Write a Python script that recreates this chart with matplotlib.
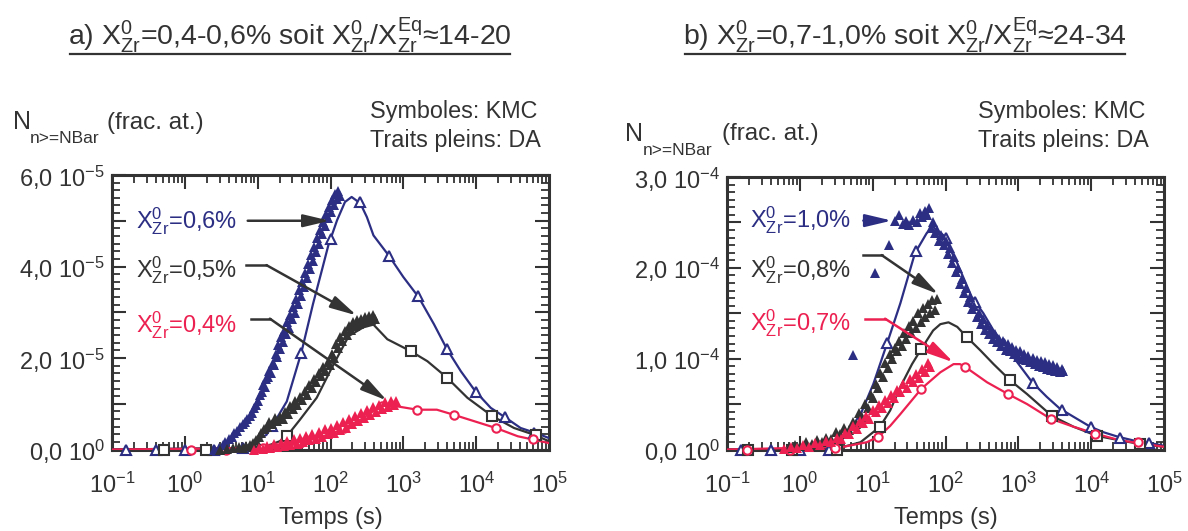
import numpy as np
import matplotlib
matplotlib.use("Agg")
import matplotlib.pyplot as plt
from matplotlib import font_manager as fm
from matplotlib.ticker import FixedLocator, FixedFormatter, LogLocator, NullFormatter, MultipleLocator
from matplotlib.lines import Line2D

names = {f.name for f in fm.fontManager.ttflist}
NARROW = 'Liberation Sans Narrow' in names
FONT = 'Liberation Sans Narrow' if NARROW else 'Liberation Sans'
K = 1.2 if NARROW else 1.0

plt.rcParams['font.family'] = [FONT, 'DejaVu Sans']
plt.rcParams['mathtext.fontset'] = 'custom'
plt.rcParams['mathtext.rm'] = FONT
plt.rcParams['mathtext.it'] = FONT + ':italic'
plt.rcParams['mathtext.bf'] = FONT + ':bold'
plt.rcParams['mathtext.sf'] = FONT

BLUE = '#2b2e83'
DARK = '#333333'
RED = '#ec2151'

# ---------------- data: panel a (N in units of 1e-5) ----------------
a_blue_da_t = [0.1, 6.3, 13.2, 16.2, 25.1, 39.8, 57.5, 75.9, 93.3, 123, 158, 195, 257, 316, 389, 631,
               1000, 1622, 2630, 3981, 6166, 9772, 15849, 25704, 40738, 66069, 100000]
a_blue_da_v = [0, 0.03, 0.32, 0.54, 1.05, 2.12, 3.18, 3.91, 4.46, 5.01, 5.41, 5.52, 5.38, 5.08, 4.68, 4.24,
               3.77, 3.33, 2.74, 2.19, 1.71, 1.27, 0.91, 0.69, 0.47, 0.36, 0.25]
a_blue_mk_t = [0.158, 0.398, 1.0, 2.51, 6.31, 15.8, 39.8, 100, 251, 631, 1585, 3981, 10000, 25119, 63096]
a_blue_mk_v = [0, 0, 0, 0, 0.03, 0.52, 2.12, 4.6, 5.4, 4.24, 3.35, 2.19, 1.25, 0.7, 0.37]

a_black_da_t = [0.1, 6.3, 13.2, 20, 25.1, 30.9, 38, 64.6, 110, 178, 282, 389, 603, 1259, 2138, 3981,
                7586, 16596, 33113, 63096, 100000]
a_black_da_v = [0, 0.03, 0.07, 0.18, 0.29, 0.47, 0.65, 1.13, 1.86, 2.48, 2.67, 2.73, 2.41, 2.15, 1.93, 1.57,
                1.13, 0.73, 0.47, 0.32, 0.18]
a_black_mk_t = [0.525, 1.95, 25.1, 1259, 3981, 16596, 66069]
a_black_mk_v = [0, 0, 0.29, 2.15, 1.57, 0.73, 0.31]

a_red_da_t = [0.1, 11.7, 25.1, 38, 64.6, 110, 151, 257, 389, 513, 776, 1549, 2884, 4898, 9333, 18621,
              37154, 63096, 100000]
a_red_da_v = [0, 0.03, 0.07, 0.14, 0.25, 0.36, 0.47, 0.65, 0.84, 0.95, 0.95, 0.87, 0.87, 0.76, 0.62, 0.47,
              0.29, 0.21, 0.14]
a_red_mk_t = [1.23, 3.7, 11.7, 38, 151, 513, 1549, 4898, 18621, 60256]
a_red_mk_v = [0, 0, 0.03, 0.14, 0.47, 0.95, 0.87, 0.76, 0.47, 0.22]

a_blue_kmc_t = [2.5, 2.9, 3.3, 3.6, 4.0, 4.4, 4.8, 5.2, 5.7, 6.2, 6.7, 7.2, 7.8, 8.4, 9.0, 9.6, 10.2, 10.8,
                11.4, 12.0, 12.6, 13.2, 13.8, 14.5, 15.2, 16.0, 16.8, 17.6, 18.4, 19.3, 20.2, 21.2, 22.2,
                23.3, 24.4, 25.6, 26.8, 28.1, 29.5, 31.0, 32.5, 34.0, 35.7, 37.4, 39.2, 41.1, 43.1, 45.2,
                47.4, 49.7, 52.1, 54.6, 57.3, 60.0, 63.0, 66.0, 69.2, 72.6, 76.1, 79.8, 83.7, 87.8, 92.0,
                96.5, 101, 106, 111, 117, 122, 128, 134]
a_blue_kmc_v = [0.00, 0.04, 0.10, 0.16, 0.22, 0.28, 0.36, 0.40, 0.50, 0.55, 0.60, 0.66, 0.74, 0.80, 0.90,
                0.98, 1.05, 1.20, 1.25, 1.40, 1.36, 1.55, 1.58, 1.72, 1.68, 1.90, 1.85, 2.08, 2.02, 2.28,
                2.20, 2.45, 2.36, 2.60, 2.52, 2.78, 2.66, 2.95, 2.85, 3.12, 2.98, 3.30, 3.18, 3.48, 3.36,
                3.66, 3.55, 3.85, 3.75, 4.05, 3.95, 4.25, 4.12, 4.42, 4.32, 4.62, 4.50, 4.80, 4.70, 4.98,
                4.88, 5.15, 5.05, 5.30, 5.20, 5.45, 5.35, 5.58, 5.48, 5.65, 5.55]

a_black_kmc_t = [3.0, 3.8, 4.6, 5.5, 6.3, 7.0, 7.8, 8.6, 9.4, 10.3, 11.2, 12.2, 13.3, 14.5, 15.8, 17.2,
                 18.7, 20.3, 22.0, 23.8, 25.8, 27.9, 30.2, 32.6, 35.2, 38.0, 41.0, 44.2, 47.6, 51.3, 55.2,
                 59.4, 63.9, 68.7, 73.8, 79.3, 85.1, 91.4, 98.0, 105, 112, 120, 128, 137, 146, 156, 166,
                 177, 189, 201, 214, 228, 243, 259, 276, 294, 313, 333, 355, 378, 402]
a_black_kmc_v = [0.00, 0.02, 0.03, 0.05, 0.04, 0.08, 0.10, 0.15, 0.20, 0.28, 0.35, 0.45, 0.50, 0.60, 0.55,
                 0.68, 0.62, 0.72, 0.66, 0.82, 0.78, 0.95, 0.88, 1.05, 0.98, 1.15, 1.08, 1.28, 1.20, 1.42,
                 1.35, 1.55, 1.48, 1.68, 1.60, 1.80, 1.72, 1.92, 1.85, 2.08, 2.00, 2.30, 2.22, 2.45, 2.38,
                 2.58, 2.50, 2.70, 2.62, 2.78, 2.70, 2.82, 2.74, 2.86, 2.78, 2.90, 2.80, 2.92, 2.84, 2.95,
                 2.86]

a_red_kmc_t = [9.0, 10.5, 12.0, 13.5, 15.0, 16.8, 18.7, 20.8, 23.0, 25.5, 28.2, 31.2, 34.5, 38.0, 42.0,
               46.4, 51.2, 56.5, 62.3, 68.7, 75.8, 83.5, 92.0, 101, 112, 123, 135, 149, 164, 180, 198,
               218, 240, 264, 290, 319, 351, 386, 424, 466, 512, 563, 619, 680, 747, 800]
a_red_kmc_v = [0.00, 0.03, 0.02, 0.08, 0.04, 0.12, 0.06, 0.14, 0.08, 0.18, 0.10, 0.22, 0.13, 0.25, 0.16,
               0.30, 0.20, 0.34, 0.24, 0.38, 0.28, 0.44, 0.33, 0.48, 0.37, 0.54, 0.42, 0.60, 0.48, 0.66,
               0.55, 0.73, 0.62, 0.80, 0.68, 0.86, 0.76, 0.92, 0.82, 0.98, 0.88, 1.03, 0.93, 1.07, 0.98,
               1.05]

# ---------------- data: panel b (N in units of 1e-4) ----------------
b_blue_da_t = [0.1, 2.9, 6.0, 10.2, 15.5, 24, 38, 55, 67.6, 93, 115, 145, 229, 331, 457, 851, 1549, 2455,
               3715, 6310, 9772, 14791, 23442, 42658, 75858, 100000]
b_blue_da_v = [0, 0.01, 0.28, 0.72, 1.15, 1.61, 2.16, 2.38, 2.45, 2.36, 2.21, 2.05, 1.68, 1.50, 1.31, 1.02,
               0.74, 0.58, 0.45, 0.34, 0.25, 0.19, 0.14, 0.09, 0.06, 0.04]
b_blue_mk_t = [0.158, 0.398, 1.0, 2.51, 6.31, 15.8, 39.8, 100, 251, 631, 1585, 3981, 10000, 25119, 63096]
b_blue_mk_v = [0, 0, 0, 0, 0.30, 1.17, 2.18, 2.33, 1.62, 1.16, 0.73, 0.43, 0.25, 0.13, 0.07]

b_black_da_t = [0.1, 2.9, 6.8, 12.6, 17.4, 24, 34.7, 46.8, 67.6, 85, 110, 145, 195, 302, 457, 776, 1318,
                2884, 5754, 12023, 25119, 46774, 100000]
b_black_da_v = [0, 0.0, 0.08, 0.25, 0.43, 0.69, 0.94, 1.11, 1.31, 1.38, 1.40, 1.35, 1.24, 1.09, 0.94, 0.76,
                0.61, 0.37, 0.25, 0.15, 0.10, 0.06, 0.03]
b_black_mk_t = [0.195, 0.79, 3.2, 12.6, 46.8, 195, 776, 2884, 12023, 46774]
b_black_mk_v = [0, 0, 0.0, 0.25, 1.11, 1.24, 0.76, 0.37, 0.15, 0.06]

b_red_da_t = [0.1, 4.0, 8.3, 12, 17.4, 24, 46.8, 85, 129, 158, 186, 372, 724, 1318, 2754, 5754, 12023,
              25119, 100000]
b_red_da_v = [0, 0.03, 0.08, 0.14, 0.26, 0.39, 0.67, 0.85, 0.94, 0.94, 0.91, 0.74, 0.61, 0.50, 0.34, 0.25,
              0.17, 0.10, 0.03]
b_red_mk_t = [0.19, 0.74, 3.0, 12, 46.8, 186, 724, 2818, 11220, 43652]
b_red_mk_v = [0, 0, 0.02, 0.14, 0.67, 0.91, 0.61, 0.34, 0.17, 0.08]

b_blue_kmc_t = [5.4, 10.7, 16.6, 20.5, 23.0, 26.0, 29.0, 32.0, 36.0, 40.0, 44.0, 48.0, 52.0, 56.0, 59.0,
                63.0, 68.0, 72.0, 77.0, 82.0, 88.0, 94.0, 100, 107, 114, 122, 130, 139, 148, 158, 168,
                180, 192, 205, 219, 234, 250, 267, 285, 304, 325, 347, 370, 395, 422, 450, 480, 513, 548,
                585, 625, 667, 712, 760, 812, 867, 926, 989, 1056, 1128, 1205, 1287, 1374, 1468, 1567,
                1674, 1787, 1909, 2038, 2177, 2325, 2482, 2651, 2831, 3023, 3229, 3448, 3682, 3932, 4170]
b_blue_kmc_v = [1.04, 1.94, 2.25, 2.52, 2.58, 2.48, 2.52, 2.47, 2.53, 2.50, 2.60, 2.56, 2.63, 2.58, 2.66,
                2.44, 2.50, 2.38, 2.42, 2.30, 2.36, 2.25, 2.30, 2.15, 2.22, 2.05, 2.12, 1.95, 2.00, 1.82,
                1.88, 1.72, 1.78, 1.62, 1.68, 1.55, 1.58, 1.46, 1.50, 1.38, 1.44, 1.32, 1.37, 1.27, 1.32,
                1.22, 1.27, 1.18, 1.22, 1.14, 1.19, 1.10, 1.16, 1.08, 1.13, 1.05, 1.10, 1.02, 1.08, 1.00,
                1.05, 0.98, 1.03, 0.96, 1.01, 0.94, 0.99, 0.92, 0.97, 0.91, 0.96, 0.89, 0.94, 0.88, 0.93,
                0.86, 0.91, 0.85, 0.89, 0.86]

b_black_kmc_t = [0.7, 0.85, 1.0, 1.2, 1.45, 1.7, 2.0, 2.3, 2.7, 3.1, 3.6, 4.1, 4.7, 5.3, 5.9, 6.5, 7.2,
                 7.9, 8.6, 9.4, 10.2, 11.0, 11.9, 12.8, 13.8, 14.9, 16.0, 17.3, 18.6, 20.0, 21.6, 23.2,
                 25.0, 27.0, 29.0, 31.3, 33.7, 36.3, 39.1, 42.2, 45.4, 49.0, 52.8, 56.9, 61.3, 66.0, 71.2,
                 76.0]
b_black_kmc_v = [0.02, 0.05, 0.04, 0.08, 0.06, 0.10, 0.08, 0.13, 0.12, 0.19, 0.17, 0.24, 0.22, 0.30, 0.28,
                 0.40, 0.36, 0.50, 0.46, 0.60, 0.57, 0.72, 0.68, 0.84, 0.80, 0.95, 0.90, 1.05, 1.00, 1.12,
                 1.08, 1.20, 1.14, 1.28, 1.22, 1.36, 1.28, 1.42, 1.34, 1.50, 1.40, 1.56, 1.46, 1.60, 1.50,
                 1.65, 1.54, 1.66]

b_red_kmc_t = [0.6, 0.75, 0.9, 1.1, 1.35, 1.6, 1.9, 2.3, 2.7, 3.2, 3.7, 4.2, 4.8, 5.4, 6.0, 6.7, 7.4, 8.2,
               9.0, 10.0, 11.0, 12.2, 13.4, 14.8, 16.3, 18.0, 19.8, 21.8, 24.0, 26.5, 29.2, 32.2, 35.5,
               39.1, 43.1, 47.5, 52.3, 57.7, 62.0]
b_red_kmc_v = [0.01, 0.03, 0.02, 0.05, 0.03, 0.07, 0.05, 0.09, 0.08, 0.13, 0.12, 0.18, 0.17, 0.26, 0.23,
               0.31, 0.29, 0.37, 0.34, 0.44, 0.41, 0.49, 0.46, 0.54, 0.51, 0.60, 0.57, 0.66, 0.63, 0.72,
               0.68, 0.78, 0.74, 0.83, 0.79, 0.89, 0.85, 0.95, 0.91]

x_ticks = [1e-1, 1e0, 1e1, 1e2, 1e3, 1e4, 1e5]
x_ticklabels = [r'$\mathregular{10^{-1}}$', r'$\mathregular{10^{0}}$', r'$\mathregular{10^{1}}$',
                r'$\mathregular{10^{2}}$', r'$\mathregular{10^{3}}$', r'$\mathregular{10^{4}}$',
                r'$\mathregular{10^{5}}$']
a_yticks = [0, 1e-5, 2e-5, 3e-5, 4e-5, 5e-5, 6e-5]
a_yticklabels = [r'$\mathregular{0{,}0\ 10^{0}}$', '', r'$\mathregular{2{,}0\ 10^{-5}}$', '',
                 r'$\mathregular{4{,}0\ 10^{-5}}$', '', r'$\mathregular{6{,}0\ 10^{-5}}$']
b_yticks = [0, 0.5e-4, 1e-4, 1.5e-4, 2e-4, 2.5e-4, 3e-4]
b_yticklabels = [r'$\mathregular{0{,}0\ 10^{0}}$', '', r'$\mathregular{1{,}0\ 10^{-4}}$', '',
                 r'$\mathregular{2{,}0\ 10^{-4}}$', '', r'$\mathregular{3{,}0\ 10^{-4}}$']

W, H = 1188, 531
fig = plt.figure(figsize=(W / 100, H / 100), dpi=100)
axA = fig.add_axes([112 / W, 1 - 449.5 / H, 437 / W, 274.5 / H])
axB = fig.add_axes([727 / W, 1 - 449.5 / H, 437 / W, 272.5 / H])

TS = 17 * K


def setup(ax, yticks, ylabels, ymax):
    ax.set_xscale('log')
    ax.set_xlim(0.1, 1e5)
    ax.set_ylim(0, ymax)
    ax.xaxis.set_major_locator(FixedLocator(x_ticks))
    ax.xaxis.set_major_formatter(FixedFormatter(x_ticklabels))
    ax.xaxis.set_minor_locator(LogLocator(base=10, subs=np.arange(2, 10), numticks=30))
    ax.xaxis.set_minor_formatter(NullFormatter())
    ax.yaxis.set_major_locator(FixedLocator(yticks))
    ax.yaxis.set_major_formatter(FixedFormatter(ylabels))
    ax.yaxis.set_minor_locator(MultipleLocator(yticks[1] / 6))
    ax.tick_params(which='both', direction='in', top=True, right=True, color=DARK,
                   labelcolor=DARK, labelsize=TS)
    ax.tick_params(which='major', length=10, width=1.5)
    ax.tick_params(which='minor', length=5.5, width=1.3)
    ax.tick_params(axis='x', which='major', pad=17)
    ax.tick_params(axis='y', which='major', pad=5)
    for s in ax.spines.values():
        s.set_linewidth(2.2)
        s.set_color(DARK)
    ax.set_xlabel('Temps (s)', fontsize=TS, color=DARK, labelpad=6)


def draw(ax, scale, da, mk, kmc, colors, markers):
    for (t, v), c in zip(da, colors):
        ax.plot(t, np.array(v) * scale, '-', color=c, lw=1.6, zorder=3)
    for (t, v), c, m in zip(mk, colors, markers):
        ax.plot(t, np.array(v) * scale, ls='none', marker=m, ms=7 if m != 'o' else 6,
                mfc='white', mec=c, mew=1.5, clip_on=False, zorder=4)
    for (t, v), c in zip(kmc, colors):
        ax.plot(t, np.array(v) * scale, ls='none', color=c, marker='^', ms=7.5, mew=0,
                clip_on=False, zorder=5)


setup(axA, a_yticks, a_yticklabels, 6e-5)
setup(axB, b_yticks, b_yticklabels, 3e-4)

draw(axA, 1e-5,
     [(a_blue_da_t, a_blue_da_v), (a_black_da_t, a_black_da_v), (a_red_da_t, a_red_da_v)],
     [(a_blue_mk_t, a_blue_mk_v), (a_black_mk_t, a_black_mk_v), (a_red_mk_t, a_red_mk_v)],
     [(a_blue_kmc_t, a_blue_kmc_v), (a_black_kmc_t, a_black_kmc_v), (a_red_kmc_t, a_red_kmc_v)],
     [BLUE, DARK, RED], ['^', 's', 'o'])
draw(axB, 1e-4,
     [(b_blue_da_t, b_blue_da_v), (b_black_da_t, b_black_da_v), (b_red_da_t, b_red_da_v)],
     [(b_blue_mk_t, b_blue_mk_v), (b_black_mk_t, b_black_mk_v), (b_red_mk_t, b_red_mk_v)],
     [(b_blue_kmc_t, b_blue_kmc_v), (b_black_kmc_t, b_black_kmc_v), (b_red_kmc_t, b_red_kmc_v)],
     [BLUE, DARK, RED], ['^', 's', 'o'])

AS = 17 * K
ARW = dict(arrowstyle='-|>,head_length=1.6,head_width=0.38', lw=1.8, shrinkA=0, shrinkB=0,
           mutation_scale=10)


def label_arrow(ax, xt, yt, text, c, start, knee, tip, ac):
    ax.text(xt, yt, r'$\mathregular{X^{0}_{Zr}}$' + text, color=c, fontsize=AS, va='baseline',
            ha='left', zorder=6)
    if knee is not None:
        ax.plot([start[0], knee[0]], [start[1], knee[1]], '-', color=ac, lw=1.8, zorder=6)
        src = knee
    else:
        src = start
    ax.annotate('', xy=tip, xytext=src, arrowprops=dict(ARW, color=ac), zorder=6)


label_arrow(axA, 0.214, 4.84e-5, '=0,6%', BLUE, (7.3, 5.0e-5), None, (98, 5.0e-5), DARK)
label_arrow(axA, 0.214, 3.77e-5, '=0,5%', DARK, (7.0, 4.03e-5), (13.2, 4.03e-5), (229, 2.93e-5), DARK)
label_arrow(axA, 0.214, 2.57e-5, '=0,4%', RED, (8.2, 2.86e-5), (14.7, 2.86e-5), (596, 1.07e-5), DARK)

label_arrow(axB, 0.207, 2.45e-4, '=1,0%', BLUE, (7.45, 2.52e-4), None, (18.3, 2.52e-4), BLUE)
label_arrow(axB, 0.207, 1.90e-4, '=0,8%', DARK, (7.45, 2.14e-4), (13.3, 2.14e-4), (80, 1.71e-4), DARK)
label_arrow(axB, 0.207, 1.31e-4, '=0,7%', RED, (7.9, 1.44e-4), (14.8, 1.44e-4), (128.5, 0.96e-4), RED)


def ftext(x, y, s, size, **kw):
    return fig.text(x / W, 1 - y / H, s, fontsize=size, color=DARK, va='baseline', **kw)


# y-axis labels above the axes
for (xn, yn, xs, ys, xf, yf) in [(13, 129, 30, 143, 107, 129), (625, 141, 643, 155, 722, 140)]:
    ftext(xn, yn, 'N', 18 * K)
    ftext(xs, ys, 'n>=NBar', 12.5 * K)
    ftext(xf, yf, '(frac. at.)', 17.5 * K)

for x0 in (370, 978):
    ftext(x0, 118, 'Symboles: KMC', 16.8 * K)
    ftext(x0, 147, 'Traits pleins: DA', 16.8 * K)

titles = [(290, r'a) $\mathregular{X^{0}_{Zr}}$=0,4-0,6% soit $\mathregular{X^{0}_{Zr}}$/$\mathregular{X^{Eq}_{Zr}}$≈14-20'),
          (905, r'b) $\mathregular{X^{0}_{Zr}}$=0,7-1,0% soit $\mathregular{X^{0}_{Zr}}$/$\mathregular{X^{Eq}_{Zr}}$≈24-34')]
tobjs = [ftext(x, 45, s, 20.5 * K, ha='center') for x, s in titles]
fig.canvas.draw()
r = fig.canvas.get_renderer()
for t in tobjs:
    bb = t.get_window_extent(r)
    yline = (bb.y0 + 1.5) / H
    fig.add_artist(Line2D([(bb.x0 + 2) / W, (bb.x1 - 2) / W], [yline, yline], color=DARK, lw=1.6,
                          transform=fig.transFigure))

fig.savefig('out.png', dpi=100)
